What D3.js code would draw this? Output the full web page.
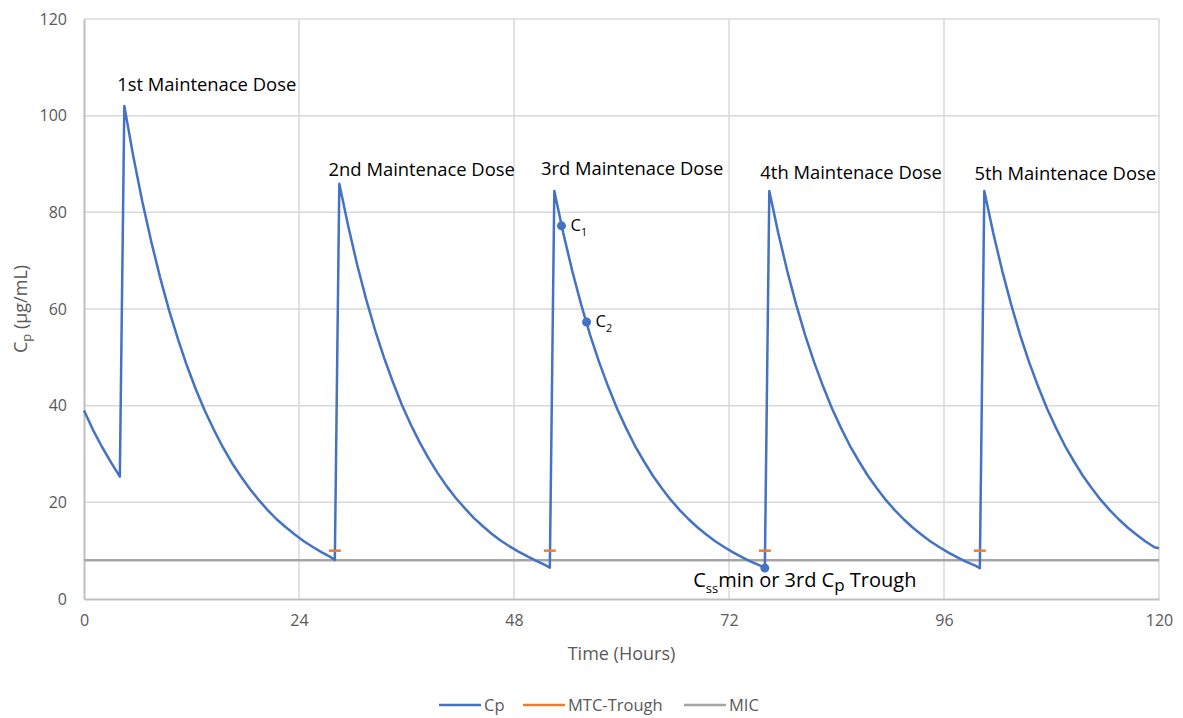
<!DOCTYPE html>
<html>
<head>
<meta charset="utf-8">
<script src="https://cdn.jsdelivr.net/npm/d3@7"></script>
<style>
  body { margin: 0; background: #fff; }
  text { font-family: "Open Sans", sans-serif; }
</style>
</head>
<body>
<div id="chart"></div>
<script>
// Cp curve (hours, ug/mL)
let timeHours = [
  0, 1, 2, 3, 4,
  4.5, 5.5, 6.5, 7.5, 8.5, 9.5, 10.5, 11.5, 12.5, 13.5, 14.5, 15.5, 16.5, 17.5, 18.5, 19.5, 20.5, 21.5, 22.5, 23.5, 24.5, 25.5, 26.5, 27.5, 28,
  28.5, 29.5, 30.5, 31.5, 32.5, 33.5, 34.5, 35.5, 36.5, 37.5, 38.5, 39.5, 40.5, 41.5, 42.5, 43.5, 44.5, 45.5, 46.5, 47.5, 48.5, 49.5, 50.5, 51.5, 52,
  52.5, 53.5, 54.5, 55.5, 56.5, 57.5, 58.5, 59.5, 60.5, 61.5, 62.5, 63.5, 64.5, 65.5, 66.5, 67.5, 68.5, 69.5, 70.5, 71.5, 72.5, 73.5, 74.5, 75.5, 76,
  76.5, 77.5, 78.5, 79.5, 80.5, 81.5, 82.5, 83.5, 84.5, 85.5, 86.5, 87.5, 88.5, 89.5, 90.5, 91.5, 92.5, 93.5, 94.5, 95.5, 96.5, 97.5, 98.5, 99.5, 100,
  100.5, 101.5, 102.5, 103.5, 104.5, 105.5, 106.5, 107.5, 108.5, 109.5, 110.5, 111.5, 112.5, 113.5, 114.5, 115.5, 116.5, 117.5, 118.5, 119.5, 120
]
let cp = [
  39.0, 35.0, 31.5, 28.3, 25.3,
  102.0, 91.6, 82.3, 74.0, 66.5, 59.7, 53.7, 48.2, 43.3, 38.9, 35.0, 31.4, 28.2, 25.4, 22.8, 20.5, 18.4, 16.5, 14.9, 13.4, 12.0, 10.8, 9.7, 8.7, 8.1,
  85.9, 77.1, 69.1, 62.0, 55.6, 49.9, 44.8, 40.1, 36.0, 32.3, 29.0, 26.0, 23.3, 20.9, 18.8, 16.8, 15.1, 13.5, 12.1, 10.9, 9.8, 8.8, 7.9, 7.0, 6.5,
  84.4, 75.7, 67.9, 60.9, 54.6, 49.0, 44.0, 39.4, 35.4, 31.7, 28.5, 25.5, 22.9, 20.5, 18.4, 16.5, 14.8, 13.3, 11.9, 10.7, 9.6, 8.6, 7.7, 6.9, 6.4,
  84.4, 75.7, 67.9, 60.9, 54.6, 49.0, 44.0, 39.4, 35.4, 31.7, 28.5, 25.5, 22.9, 20.5, 18.4, 16.5, 14.8, 13.3, 11.9, 10.7, 9.6, 8.6, 7.7, 6.9, 6.4,
  84.4, 75.7, 67.9, 60.9, 54.6, 49.0, 44.0, 39.4, 35.4, 31.7, 28.5, 25.5, 22.9, 20.5, 18.4, 16.5, 14.8, 13.3, 11.9, 10.7, 10.5
]

// MTC-Trough marks and MIC level
let mtcTimes = [28, 52, 76, 100]
let mtcValue = [10, 10, 10, 10]
let micTimes = [0, 120]
let micValue = [8, 8]

// marked points on the 3rd dose
let markTimes = [53.3, 56.1, 76]
let markValues = [77.2, 57.3, 6.4]

let doseLabels = ["1st Maintenace Dose", "2nd Maintenace Dose", "3rd Maintenace Dose", "4th Maintenace Dose", "5th Maintenace Dose"]
let doseLabelTimes = [3.7, 27.3, 51.0, 75.5, 99.4]
let doseLabelValues = [105.1, 87.6, 87.8, 87.0, 86.6]

let xTicks = [0, 24, 48, 72, 96, 120]
let yTicks = [0, 20, 40, 60, 80, 100, 120]

let width = 1183
let height = 718
let margin = {left: 84, right: 24, top: 19, bottom: 119}

const svg = d3.select('#chart')
  .append("svg")
  .attr("width", width)
  .attr("height", height)

const xScale = d3.scaleLinear()
  .domain([0, 120])
  .range([margin.left, width - margin.right])

const yScale = d3.scaleLinear()
  .domain([0, 120])
  .range([height - margin.bottom, margin.top])

// grid
svg.append("g")
  .selectAll("line")
  .data(yTicks.slice(1))
  .enter()
  .append("line")
  .attr("x1", xScale(0))
  .attr("x2", xScale(120))
  .attr("y1", d => yScale(d))
  .attr("y2", d => yScale(d))
  .attr("stroke", "#d9d9d9")
  .attr("stroke-width", 1.5)

svg.append("g")
  .selectAll("line")
  .data(xTicks.slice(1))
  .enter()
  .append("line")
  .attr("x1", d => xScale(d))
  .attr("x2", d => xScale(d))
  .attr("y1", yScale(0))
  .attr("y2", yScale(120))
  .attr("stroke", "#d9d9d9")
  .attr("stroke-width", 1.5)

// axes
const xAxis = d3.axisBottom(xScale).tickValues(xTicks).tickSize(0).tickPadding(16)
const yAxis = d3.axisLeft(yScale).tickValues(yTicks).tickSize(0).tickPadding(17)

const gx = svg.append("g")
  .attr("transform", "translate(0," + yScale(0) + ")")
  .call(xAxis)
const gy = svg.append("g")
  .attr("transform", "translate(" + xScale(0) + ",0)")
  .call(yAxis)

for (const g of [gx, gy]) {
  g.select(".domain").attr("stroke", "#bfbfbf").attr("stroke-width", 2)
  g.selectAll("text")
    .attr("fill", "#595959")
    .style("font-size", "16px")
    .style("font-family", "Open Sans")
}

// MIC
svg.append("path")
  .datum(d3.zip(micTimes, micValue))
  .attr("d", d3.line().x(d => xScale(d[0])).y(d => yScale(d[1])))
  .attr("fill", "none")
  .attr("stroke", "#a5a5a5")
  .attr("stroke-width", 2.5)

// Cp curve
svg.append("path")
  .datum(d3.zip(timeHours, cp))
  .attr("d", d3.line().x(d => xScale(d[0])).y(d => yScale(d[1])))
  .attr("fill", "none")
  .attr("stroke", "#4472c4")
  .attr("stroke-width", 2.5)
  .attr("stroke-linejoin", "round")

// MTC-Trough dashes
svg.selectAll(".mtc")
  .data(d3.zip(mtcTimes, mtcValue))
  .enter()
  .append("line")
  .attr("class", "mtc")
  .attr("x1", d => xScale(d[0]) - 6)
  .attr("x2", d => xScale(d[0]) + 6)
  .attr("y1", d => yScale(d[1]))
  .attr("y2", d => yScale(d[1]))
  .attr("stroke", "#ed7d31")
  .attr("stroke-width", 2.5)

// marked points
svg.selectAll(".mark")
  .data(d3.zip(markTimes, markValues))
  .enter()
  .append("circle")
  .attr("class", "mark")
  .attr("cx", d => xScale(d[0]))
  .attr("cy", d => yScale(d[1]))
  .attr("r", 4.5)
  .attr("fill", "#4472c4")

// dose labels
svg.selectAll(".dose")
  .data(doseLabels)
  .enter()
  .append("text")
  .attr("class", "dose")
  .attr("x", (d, i) => xScale(doseLabelTimes[i]))
  .attr("y", (d, i) => yScale(doseLabelValues[i]))
  .attr("fill", "#000")
  .style("font-size", "18.4px")
  .text(d => d)

// C1, C2
function subLabel(x, y, main, sub, size, rest) {
  const t = svg.append("text")
    .attr("x", x)
    .attr("y", y)
    .attr("fill", "#000")
    .style("font-size", size + "px")
  t.append("tspan").text(main)
  t.append("tspan").attr("dy", size * 0.3).style("font-size", (size * 0.65) + "px").text(sub)
  if (rest) {
    for (const r of rest) {
      t.append("tspan").attr("dy", r.dy).style("font-size", (r.size || size) + "px").text(r.text)
    }
  }
  return t
}

subLabel(xScale(53.3) + 9, yScale(77.2) + 5, "C", "1", 16.5)
subLabel(xScale(56.1) + 9, yScale(57.3) + 5, "C", "2", 16.5)
subLabel(xScale(68.0), yScale(2.5), "C", "ss", 20, [
  {text: "min or 3rd C", dy: -20 * 0.3},
  {text: "p", dy: 20 * 0.2, size: 20 * 0.85},
  {text: " Trough", dy: -20 * 0.2}
])

// axis titles
svg.append("text")
  .attr("x", xScale(60))
  .attr("y", 660)
  .attr("text-anchor", "middle")
  .attr("fill", "#595959")
  .style("font-size", "18px")
  .text("Time (Hours)")

const yt = svg.append("text")
  .attr("transform", "translate(27," + yScale(60) + ") rotate(-90)")
  .attr("text-anchor", "middle")
  .attr("fill", "#595959")
  .style("font-size", "18px")
yt.append("tspan").text("C")
yt.append("tspan").attr("dy", 4).style("font-size", "13px").text("p")
yt.append("tspan").attr("dy", -4).text(" (µg/mL)")

// legend
let legendNames = ["Cp", "MTC-Trough", "MIC"]
let legendColors = ["#4472c4", "#ed7d31", "#a5a5a5"]
let legendX = [439, 523, 684]

const legend = svg.append("g")
legend.selectAll("line")
  .data(legendNames)
  .enter()
  .append("line")
  .attr("x1", (d, i) => legendX[i])
  .attr("x2", (d, i) => legendX[i] + 42)
  .attr("y1", 705)
  .attr("y2", 705)
  .attr("stroke", (d, i) => legendColors[i])
  .attr("stroke-width", 2.5)
legend.selectAll("text")
  .data(legendNames)
  .enter()
  .append("text")
  .attr("x", (d, i) => legendX[i] + 45)
  .attr("y", 711)
  .attr("fill", "#595959")
  .style("font-size", "16.5px")
  .text(d => d)
</script>
</body>
</html>
